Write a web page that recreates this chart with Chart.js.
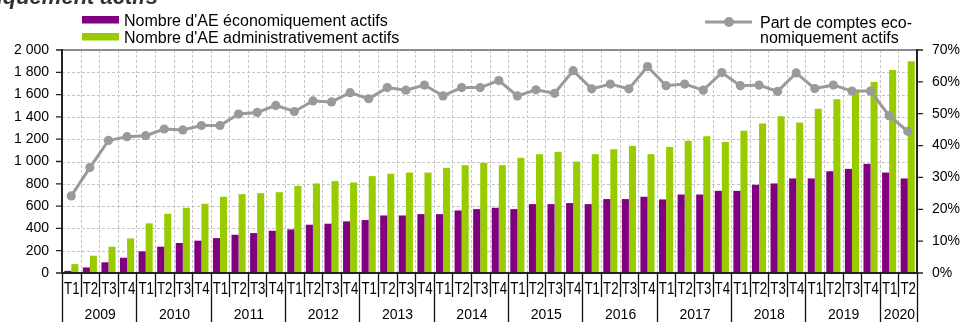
<!DOCTYPE html>
<html lang="fr">
<head>
<meta charset="utf-8">
<title>Auto-entrepreneurs actifs</title>
<script src="https://cdn.jsdelivr.net/npm/chart.js@4/dist/chart.umd.min.js"></script>
<style>
  html, body { margin: 0; padding: 0; background: #fff; overflow: hidden; }
  #wrap { width: 963px; height: 322px; position: relative; }
</style>
</head>
<body>
<div id="wrap"><canvas id="c" width="963" height="322"></canvas></div>
<script>
// Years and number of quarters shown for each
const years = ['2009','2010','2011','2012','2013','2014','2015','2016','2017','2018','2019','2020'];
const quartersPerYear = [4,4,4,4,4,4,4,4,4,4,4,2];
const quarterNames = ['T1','T2','T3','T4'];

// Number of AE economically active (per quarter)
const aeEconomiques = [
  19, 50, 96, 137,
  194, 236, 269, 290,
  313, 343, 358, 379,
  391, 433, 442, 463,
  475, 516, 516, 528,
  528, 561, 573, 585,
  573, 618, 618, 627,
  618, 663, 663, 684,
  660, 704, 704, 737,
  737, 791, 803, 848,
  848, 913, 934, 979,
  901, 848
];

// Number of AE administratively active (per quarter)
const aeAdministratifs = [
  80, 155, 236, 310,
  445, 531, 585, 621,
  684, 707, 716, 725,
  782, 803, 824, 812,
  869, 890, 901, 901,
  943, 967, 988, 967,
  1033, 1066, 1087, 1000,
  1066, 1110, 1140, 1066,
  1131, 1185, 1227, 1176,
  1275, 1340, 1406, 1349,
  1472, 1558, 1627, 1713,
  1821, 1898
];

// Share of economically active accounts (%)
const partActifs = [
  24.2, 33.1, 41.6, 42.8,
  43.1, 45.2, 44.9, 46.3,
  46.3, 49.9, 50.4, 52.6,
  50.7, 54.0, 53.7, 56.6,
  54.7, 58.2, 57.4, 59.0,
  55.6, 58.2, 58.2, 60.4,
  55.6, 57.5, 56.4, 63.5,
  57.8, 59.3, 57.8, 64.8,
  58.8, 59.3, 57.4, 62.9,
  58.8, 59.0, 57.0, 62.8,
  57.9, 59.0, 57.1, 57.1,
  49.4, 44.5
];

// Category labels built from the years
const categories = [];
years.forEach((y, i) => {
  for (let q = 0; q < quartersPerYear[i]; q++) categories.push(quarterNames[q]);
});

const FONT = "'Liberation Sans', Arial, Helvetica, sans-serif";
const PURPLE = '#800080';
const GREEN = '#99cc00';
const GREY = '#9a9a9a';

function frMillier(v) {
  return String(v).replace(/\B(?=(\d{3})+(?!\d))/g, ' ');
}

// Frame, dashed grid, grouped x-axis labels, legends and title
const framePlugin = {
  id: 'frame',
  beforeDatasetsDraw(chart) {
    const ctx = chart.ctx;
    const ca = chart.chartArea;
    const xs = chart.scales.x, ys = chart.scales.y;
    const step = xs.getPixelForValue(1) - xs.getPixelForValue(0);
    ctx.save();
    ctx.strokeStyle = '#c4c4c4';
    ctx.lineWidth = 1;
    ctx.setLineDash([3, 2]);
    // horizontal grid
    for (let v = 200; v < 2000; v += 200) {
      const y = Math.round(ys.getPixelForValue(v)) + 0.5;
      ctx.beginPath(); ctx.moveTo(ca.left, y); ctx.lineTo(ca.right, y); ctx.stroke();
    }
    // vertical grid at category boundaries
    for (let i = 1; i < categories.length; i++) {
      const x = Math.round(xs.getPixelForValue(i) - step / 2) + 0.5;
      ctx.beginPath(); ctx.moveTo(x, ca.top); ctx.lineTo(x, ca.bottom); ctx.stroke();
    }
    ctx.restore();
  },
  afterDatasetsDraw(chart) {
    const ctx = chart.ctx;
    const ca = chart.chartArea;
    const xs = chart.scales.x, ys = chart.scales.y, y1 = chart.scales.y1;
    const step = xs.getPixelForValue(1) - xs.getPixelForValue(0);
    const edge = i => xs.getPixelForValue(i) - step / 2;
    ctx.save();

    // top border
    ctx.strokeStyle = '#8c8c8c';
    ctx.lineWidth = 2;
    ctx.beginPath(); ctx.moveTo(ca.left, ca.top); ctx.lineTo(ca.right, ca.top); ctx.stroke();

    // axis lines
    ctx.strokeStyle = '#222';
    ctx.lineWidth = 2;
    ctx.beginPath();
    ctx.moveTo(ca.left, ca.top - 1); ctx.lineTo(ca.left, ca.bottom);
    ctx.moveTo(ca.right, ca.top - 1); ctx.lineTo(ca.right, ca.bottom);
    ctx.moveTo(ca.left, ca.bottom); ctx.lineTo(ca.right, ca.bottom);
    ctx.stroke();

    // tick marks, left and right
    ctx.lineWidth = 1.3;
    ctx.beginPath();
    for (let v = 0; v <= 2000; v += 200) {
      const y = ys.getPixelForValue(v);
      ctx.moveTo(ca.left - 6, y); ctx.lineTo(ca.left, y);
    }
    for (let v = 0; v <= 70; v += 10) {
      const y = y1.getPixelForValue(v);
      ctx.moveTo(ca.right, y); ctx.lineTo(ca.right + 6, y);
    }
    ctx.stroke();

    // quarter separators and year separators
    const yearEdges = [0];
    quartersPerYear.forEach(n => yearEdges.push(yearEdges[yearEdges.length - 1] + n));
    ctx.strokeStyle = '#111';
    ctx.lineWidth = 1.3;
    ctx.beginPath();
    for (let i = 0; i <= categories.length; i++) {
      const x = Math.round(edge(i)) + 0.5;
      const bottom = yearEdges.includes(i) ? 322 : ca.bottom + 24;
      ctx.moveTo(x, ca.bottom); ctx.lineTo(x, bottom);
    }
    ctx.stroke();

    // quarter labels
    ctx.fillStyle = '#000';
    ctx.textAlign = 'center';
    ctx.textBaseline = 'alphabetic';
    ctx.font = '17px ' + FONT;
    categories.forEach((lab, i) => {
      ctx.save();
      ctx.translate(xs.getPixelForValue(i) + 0.5, ca.bottom + 21);
      ctx.scale(0.78, 1);
      ctx.fillText(lab, 0, 0);
      ctx.restore();
    });

    // year labels
    ctx.font = '14px ' + FONT;
    years.forEach((y, k) => {
      const x = (edge(yearEdges[k]) + edge(yearEdges[k + 1])) / 2;
      ctx.fillText(y, x + 1, 319);
    });
    ctx.restore();
  },
  afterDraw(chart) {
    const ctx = chart.ctx;
    const ds = chart.data.datasets;
    ctx.save();

    // title (runs above the canvas top)
    ctx.fillStyle = '#333';
    ctx.font = 'italic bold 22px ' + FONT;
    ctx.textAlign = 'right';
    ctx.textBaseline = 'alphabetic';
    ctx.fillText('Nombre d\u2019AE et part de comptes économiquement actifs', 158, 4);

    // bar legend
    ctx.textAlign = 'left';
    ctx.font = '16px ' + FONT;
    ctx.fillStyle = ds[0].backgroundColor;
    ctx.fillRect(82, 16, 37, 7.5);
    ctx.fillStyle = ds[1].backgroundColor;
    ctx.fillRect(82, 33, 37, 7.5);
    ctx.fillStyle = '#000';
    ctx.fillText(ds[0].label, 124, 26);
    ctx.fillText(ds[1].label, 124, 43);

    // line legend
    ctx.strokeStyle = ds[2].borderColor;
    ctx.lineWidth = 3;
    ctx.beginPath(); ctx.moveTo(705, 22); ctx.lineTo(752, 22); ctx.stroke();
    ctx.fillStyle = ds[2].borderColor;
    ctx.beginPath(); ctx.arc(729, 22, 5, 0, Math.PI * 2); ctx.fill();
    ctx.fillStyle = '#000';
    ctx.fillText('Part de comptes eco-', 760, 28);
    ctx.fillText('nomiquement actifs', 760, 43);
    ctx.restore();
  }
};

new Chart(document.getElementById('c'), {
  type: 'bar',
  data: {
    labels: categories,
    datasets: [
      {
        label: "Nombre d'AE économiquement actifs",
        data: aeEconomiques,
        backgroundColor: PURPLE,
        yAxisID: 'y',
        order: 1,
        categoryPercentage: 0.76,
        barPercentage: 1
      },
      {
        label: "Nombre d'AE administrativement actifs",
        data: aeAdministratifs,
        backgroundColor: GREEN,
        yAxisID: 'y',
        order: 2,
        categoryPercentage: 0.76,
        barPercentage: 1
      },
      {
        type: 'line',
        label: 'Part de comptes économiquement actifs',
        data: partActifs,
        yAxisID: 'y1',
        order: 0,
        borderColor: GREY,
        backgroundColor: GREY,
        borderWidth: 3,
        pointRadius: 4.6,
        pointBackgroundColor: GREY,
        pointBorderWidth: 0,
        tension: 0,
        fill: false
      }
    ]
  },
  options: {
    responsive: false,
    animation: false,
    layout: { padding: { top: 50, left: 0, right: 0, bottom: 0 } },
    plugins: { legend: { display: false }, tooltip: { enabled: false }, title: { display: false } },
    scales: {
      x: {
        offset: true,
        grid: { display: false, drawTicks: false },
        border: { display: false },
        ticks: { display: false },
        afterFit(s) { s.height = 49; }
      },
      y: {
        position: 'left',
        min: 0, max: 2000,
        grid: { display: false, drawTicks: false },
        border: { display: false },
        ticks: {
          stepSize: 200,
          padding: 13,
          color: '#000',
          font: { family: FONT, size: 14 },
          callback: v => frMillier(v)
        },
        afterFit(s) { s.width = 62; }
      },
      y1: {
        position: 'right',
        min: 0, max: 70,
        grid: { display: false, drawTicks: false },
        border: { display: false },
        ticks: {
          stepSize: 10,
          padding: 15,
          color: '#000',
          font: { family: FONT, size: 14 },
          callback: v => v + '%'
        },
        afterFit(s) { s.width = 46; }
      }
    }
  },
  plugins: [framePlugin]
});
</script>
</body>
</html>
